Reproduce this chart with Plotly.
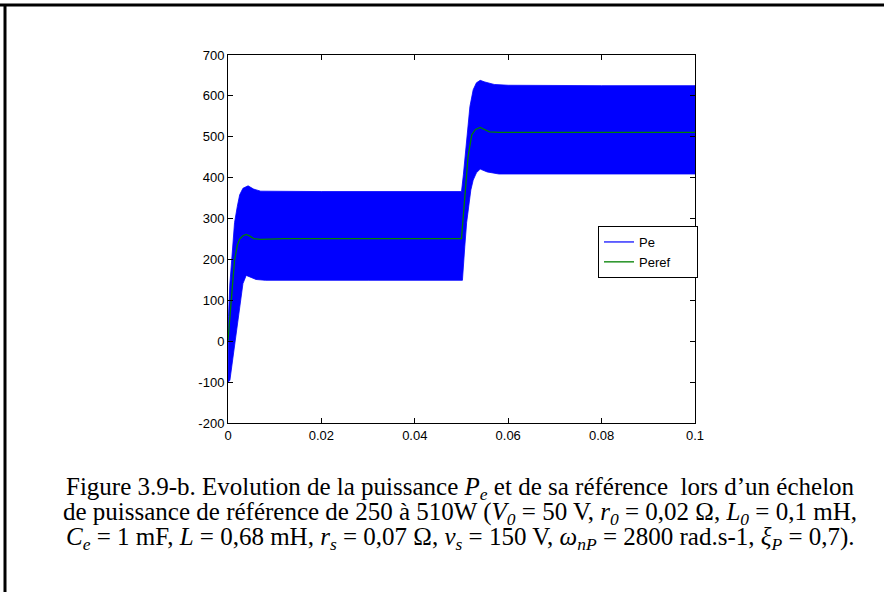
import plotly.graph_objects as go

# ---- data ----
# Upper envelope of the oscillating Pe signal
pe_up_t = [0, 0.0001, 0.0004, 0.0008, 0.0014, 0.002, 0.0025, 0.0032, 0.0043, 0.0055, 0.007, 0.02, 0.04, 0.0500,
           0.0504, 0.0507, 0.0511, 0.0518, 0.0525, 0.0532, 0.054, 0.055, 0.057, 0.06, 0.08, 0.1]
pe_up_v = [-100, 60, 140, 210, 290, 330, 358, 374, 380, 372, 367, 366, 366, 366,
           407, 445, 484, 574, 615, 632, 638, 634, 628, 626, 625, 625]
# Lower envelope of the oscillating Pe signal
pe_lo_t = [0, 0.0004, 0.0011, 0.0021, 0.0032, 0.0039, 0.005, 0.006, 0.008, 0.03, 0.0502,
           0.0504, 0.0507, 0.0511, 0.0515, 0.052, 0.0525, 0.0532, 0.054, 0.0555, 0.058, 0.08, 0.1]
pe_lo_v = [-100, -96, -39, 51, 141, 161, 155, 151, 149, 149, 149,
           180, 231, 290, 329, 370, 394, 412, 421, 414, 409, 409, 409]
# Reference power Peref
pref_t = [0, 0.0007, 0.0014, 0.002, 0.0025, 0.0032, 0.0039, 0.0047, 0.0055, 0.007, 0.012, 0.05,
          0.0507, 0.0514, 0.0522, 0.053, 0.054, 0.055, 0.056, 0.058, 0.1]
pref_v = [2, 108, 198, 235, 250, 258, 261, 257, 251, 249, 251, 251,
          362, 451, 505, 518, 523, 518, 512, 511, 511]

x_ticks = [0, 0.02, 0.04, 0.06, 0.08, 0.1]
x_tick_text = ["0", "0.02", "0.04", "0.06", "0.08", "0.1"]
y_ticks = [-200, -100, 0, 100, 200, 300, 400, 500, 600, 700]
y_tick_text = ["-200", "-100", "0", "100", "200", "300", "400", "500", "600", "700"]

caption_lines = [
    "Figure 3.9-b. Evolution de la puissance <i>P<sub>e</sub></i> et de sa référence  lors d’un échelon",
    "de puissance de référence de 250 à 510W (<i>V<sub>0</sub></i> = 50 V, <i>r<sub>0</sub></i> = 0,02 Ω, "
    "<i>L<sub>0</sub></i> = 0,1 mH,",
    "<i>C<sub>e</sub></i> = 1 mF, <i>L</i> = 0,68 mH, <i>r<sub>s</sub></i> = 0,07 Ω, <i>v<sub>s</sub></i> = 150 V, "
    "<i>ω<sub>nP</sub></i> = 2800 rad.s-1, <i>ξ<sub>P</sub></i> = 0,7).",
]

# ---- geometry ----
W, H = 884, 592
L, R, T, B = 228, 189, 55, 169
PW, PH = W - L - R, H - T - B


def px(x):
    return (x - L) / PW


def py(y):
    return (H - B - y) / PH


fig = go.Figure()

# Blue band (Pe)
fig.add_trace(go.Scatter(
    x=pe_up_t + pe_lo_t[::-1], y=pe_up_v + pe_lo_v[::-1],
    fill="toself", fillcolor="#0000FF", mode="lines",
    line=dict(color="#0000FF", width=0.8), showlegend=False, hoverinfo="skip"))
# Legend proxy for Pe
pad = "\u00a0" * 6
fig.add_trace(go.Scatter(x=[None], y=[None], mode="lines", name="Pe" + pad,
                         line=dict(color="#0000FF", width=1.2)))
# Peref
fig.add_trace(go.Scatter(x=pref_t, y=pref_v, mode="lines", name="Peref" + pad,
                         line=dict(color="#008000", width=1.3)))

axis_common = dict(showline=True, linecolor="black", linewidth=1, mirror="ticks",
                   ticks="inside", ticklen=5, tickcolor="black", showgrid=False, zeroline=False,
                   tickfont=dict(family="Liberation Sans, Arial", size=13, color="black"))
fig.update_xaxes(range=[0, 0.1], tickvals=x_ticks, ticktext=x_tick_text, **axis_common)
fig.update_yaxes(range=[-200, 700], tickvals=y_ticks, ticktext=y_tick_text, **axis_common)

shapes = [
    dict(type="line", xref="paper", yref="paper", x0=px(0), x1=px(W), y0=py(5), y1=py(5),
         line=dict(color="black", width=3)),
    dict(type="line", xref="paper", yref="paper", x0=px(5), x1=px(5), y0=py(4), y1=py(H),
         line=dict(color="black", width=3)),
]

annotations = []
for i, line in enumerate(caption_lines):
    annotations.append(dict(
        text=line, xref="paper", yref="paper", x=px(460), y=py(488 + 25 * i),
        xanchor="center", yanchor="middle", showarrow=False,
        font=dict(family="Liberation Serif, Times New Roman", size=25, color="black")))

fig.update_layout(
    width=W, height=H, margin=dict(l=L, r=R, t=T, b=B),
    paper_bgcolor="white", plot_bgcolor="white",
    shapes=shapes, annotations=annotations,
    legend=dict(x=px(598), y=py(226), xanchor="left", yanchor="top",
                bgcolor="white", bordercolor="black", borderwidth=1,
                font=dict(family="Liberation Sans, Arial", size=13, color="black"),
                tracegroupgap=0),
)

fig.write_html("out.html", config={"displayModeBar": False},
               post_script="document.body.style.margin='0';")
